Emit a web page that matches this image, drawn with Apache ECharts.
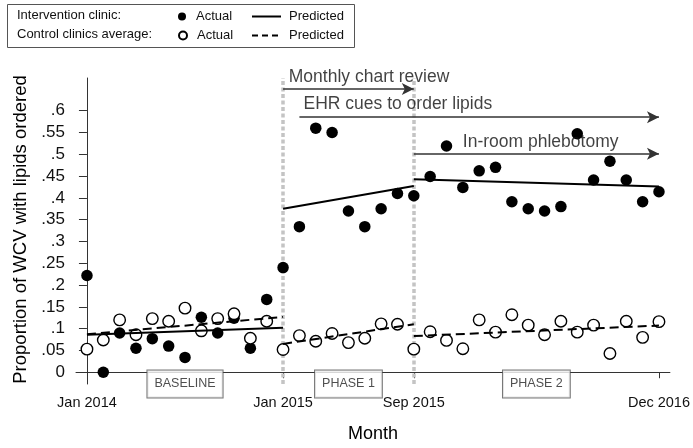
<!DOCTYPE html>
<html><head><meta charset="utf-8">
<script src="https://cdn.jsdelivr.net/npm/echarts@6/dist/echarts.min.js"></script>
<style>html,body{margin:0;padding:0;background:#fff}#c{width:693px;height:448px}</style>
</head><body><div id="c"></div>
<script>
// ---- data ----
const months = [0,1,2,3,4,5,6,7,8,9,10,11,12,13,14,15,16,17,18,19,20,21,22,23,24,25,26,27,28,29,30,31,32,33,34,35];
const interventionActual = [0.222,0.000,0.090,0.055,0.077,0.060,0.034,0.126,0.090,0.124,0.055,0.167,0.240,
  0.334,0.560,0.550,0.370,0.334,0.375,0.410,0.405,
  0.449,0.519,0.424,0.462,0.470,0.391,0.375,0.370,0.380,0.547,0.441,0.484,0.441,0.391,0.414];
const controlActual = [0.053,0.074,0.120,0.086,0.123,0.117,0.147,0.095,0.123,0.134,0.078,0.117,0.052,
  0.084,0.071,0.089,0.068,0.078,0.111,0.110,0.053,
  0.093,0.073,0.054,0.120,0.092,0.132,0.108,0.086,0.117,0.092,0.108,0.043,0.117,0.080,0.116];
const segmentStart = [0, 12, 20];
const segmentEnd = [12, 20, 35];
const interventionPredStart = [0.086, 0.375, 0.443];
const interventionPredEnd = [0.102, 0.427, 0.426];
const controlPredStart = [0.087, 0.065, 0.083];
const controlPredEnd = [0.127, 0.110, 0.107];
const xTickMonths = [0, 12, 20, 35];
const xTickLabels = ['Jan 2014', 'Jan 2015', 'Sep 2015', 'Dec 2016'];
const yTicks = [0, 0.05, 0.1, 0.15, 0.2, 0.25, 0.3, 0.35, 0.4, 0.45, 0.5, 0.55, 0.6];
const phaseNames = ['BASELINE', 'PHASE 1', 'PHASE 2'];
const phaseCenters = [6, 16, 27.5];
const phaseBoundaries = [12, 20];
const arrowTexts = ['Monthly chart review', 'EHR cues to order lipids', 'In-room phlebotomy'];
const arrowFrom = [12, 13, 20];
const arrowTo = [20, 35, 35];
const arrowLevel = [0.650, 0.585, 0.501];
const arrowTextMonth = [12.35, 13.25, 23.0];
const arrowTextLevel = [0.677, 0.615, 0.527];

// ---- chart ----
const FF = "'Liberation Sans', Arial, sans-serif";
const Y_MIN = -0.027, Y_MAX = 0.675;
const N_IA = 'Intervention clinic: Actual', N_IP = 'Intervention clinic: Predicted';
const N_CA = 'Control clinics average: Actual', N_CP = 'Control clinics average: Predicted';

function segSeries(name, starts, ends, dashed) {
  return segmentStart.map((s, i) => ({
    name: name, type: 'line', z: 4, symbol: 'none', showSymbol: false, silent: true,
    lineStyle: { color: '#000', width: 2, type: dashed ? [9, 5] : 'solid' },
    itemStyle: { color: '#000' },
    data: [[s, starts[i]], [segmentEnd[i], ends[i]]]
  }));
}

const fmtY = v => {
  if (Math.abs(v) < 1e-9) return '0';
  return String(+v.toFixed(2)).replace(/^0/, '');
};

const legTxt = { fontFamily: FF, fontSize: 13, color: '#111', padding: [0, 0, 0, 5] };

const option = {
  animation: false,
  backgroundColor: '#fff',
  textStyle: { fontFamily: FF, color: '#000' },
  grid: { left: 76, right: 21, top: 78, bottom: 59, containLabel: false },
  xAxis: {
    type: 'value', min: -0.67, max: 35.67,
    name: 'Month', nameLocation: 'middle', nameGap: 41,
    nameTextStyle: { fontFamily: FF, fontSize: 18, color: '#000' },
    axisLine: { lineStyle: { color: '#333', width: 1 } },
    axisTick: { show: true, length: 6, customValues: xTickMonths, lineStyle: { color: '#333' } },
    axisLabel: { customValues: xTickMonths, margin: 11, fontFamily: FF, fontSize: 14.5, color: '#111',
      formatter: v => xTickLabels[xTickMonths.indexOf(Math.round(v))] || '' },
    splitLine: { show: false }
  },
  yAxis: {
    type: 'value', min: Y_MIN, max: Y_MAX,
    name: 'Proportion of WCV with lipids ordered', nameLocation: 'middle', nameGap: 38,
    nameTextStyle: { fontFamily: FF, fontSize: 18.5, color: '#000', padding: [0, 0, 0, 3] },
    axisLine: { show: true, lineStyle: { color: '#333', width: 1 } },
    axisTick: { show: true, length: 8, customValues: yTicks, lineStyle: { color: '#333' } },
    axisLabel: { customValues: yTicks, margin: 11, fontFamily: FF, fontSize: 17, color: '#111', formatter: fmtY },
    splitLine: { show: false }
  },
  legend: [
    { data: [N_IA], left: 178, top: 10, padding: 0, itemWidth: 8, itemHeight: 8, formatter: () => 'Actual',
      textStyle: legTxt, selectedMode: false },
    { data: [N_CA], left: 178, top: 29, padding: 0, itemWidth: 8, itemHeight: 8, formatter: () => 'Actual',
      textStyle: legTxt, selectedMode: false },
    { data: [N_IP], left: 251, top: 10, padding: 0, itemWidth: 29, itemHeight: 8, formatter: () => 'Predicted',
      itemStyle: { color: 'rgba(0,0,0,0)', borderWidth: 0, opacity: 0 },
      lineStyle: { type: 'solid', width: 2, color: '#000' },
      textStyle: { ...legTxt, padding: [0, 0, 0, 3] }, selectedMode: false },
    { data: [N_CP], left: 251, top: 29, padding: 0, itemWidth: 29, itemHeight: 8, formatter: () => 'Predicted',
      itemStyle: { color: 'rgba(0,0,0,0)', borderWidth: 0, opacity: 0 },
      lineStyle: { type: [6, 4], width: 2, color: '#000' },
      textStyle: { ...legTxt, padding: [0, 0, 0, 3] }, selectedMode: false }
  ],
  graphic: [
    { type: 'rect', left: 5, top: 2, shape: { width: 347, height: 43 }, style: { fill: 'none', stroke: '#555', lineWidth: 1 }, silent: true },
    { type: 'text', left: 17, top: 9, style: { text: 'Intervention clinic:', font: "13px 'Liberation Sans', Arial", fill: '#111' }, silent: true },
    { type: 'text', left: 17, top: 28, style: { text: 'Control clinics average:', font: "13px 'Liberation Sans', Arial", fill: '#111' }, silent: true }
  ],
  series: [
    {
      name: 'phaseBoundaries', type: 'line', data: [], silent: true, z: 1,
      markLine: {
        z: 1, silent: true, symbol: 'none', label: { show: false }, animation: false,
        lineStyle: { color: '#c4c4c4', width: 3.5, type: [4, 2.5] },
        data: phaseBoundaries.map(b => ({ xAxis: b }))
      }
    },
    {
      name: N_IA, type: 'scatter', z: 3, symbol: 'circle', symbolSize: 11.5,
      itemStyle: { color: '#000', opacity: 1 },
      data: months.map((m, i) => [m, interventionActual[i]])
    },
    {
      name: N_CA, type: 'scatter', z: 3, symbol: 'circle', symbolSize: 11.5,
      itemStyle: { color: '#fff', borderColor: '#000', borderWidth: 1.4, opacity: 1 },
      data: months.map((m, i) => [m, controlActual[i]])
    },
    ...segSeries(N_IP, interventionPredStart, interventionPredEnd, false),
    ...segSeries(N_CP, controlPredStart, controlPredEnd, true),
    {
      name: 'arrows', type: 'line', data: [], silent: true,
      markLine: {
        silent: true, animation: false, symbol: ['none', 'arrow'], symbolSize: [9, 12],
        label: { show: false },
        lineStyle: { color: '#333', width: 1.6, type: 'solid' },
        data: arrowFrom.map((f, i) => [{ coord: [f, arrowLevel[i]] }, { coord: [arrowTo[i], arrowLevel[i]] }])
      }
    },
    {
      name: 'arrowText', type: 'scatter', symbolSize: 0, silent: true, clip: false, z: 5,
      data: arrowTexts.map((t, i) => ({ value: [arrowTextMonth[i], arrowTextLevel[i]], name: t })),
      label: { show: true, position: 'right', distance: 0, formatter: p => p.name,
        fontFamily: FF, fontSize: 17.5, color: '#111' }
    },
    {
      name: 'phases', type: 'scatter', symbolSize: 0, silent: true, clip: false, z: 6,
      data: phaseNames.map((t, i) => ({ value: [phaseCenters[i], Y_MIN], name: t })),
      label: { show: true, position: 'inside', formatter: p => p.name,
        fontFamily: FF, fontSize: 12.5, color: '#222', backgroundColor: '#fff',
        borderColor: '#555', borderWidth: 1, padding: [7, 7, 7, 7] }
    }
  ]
};
const chart = echarts.init(document.getElementById('c'), null, { renderer: 'canvas' });
chart.setOption(option);
</script></body></html>
